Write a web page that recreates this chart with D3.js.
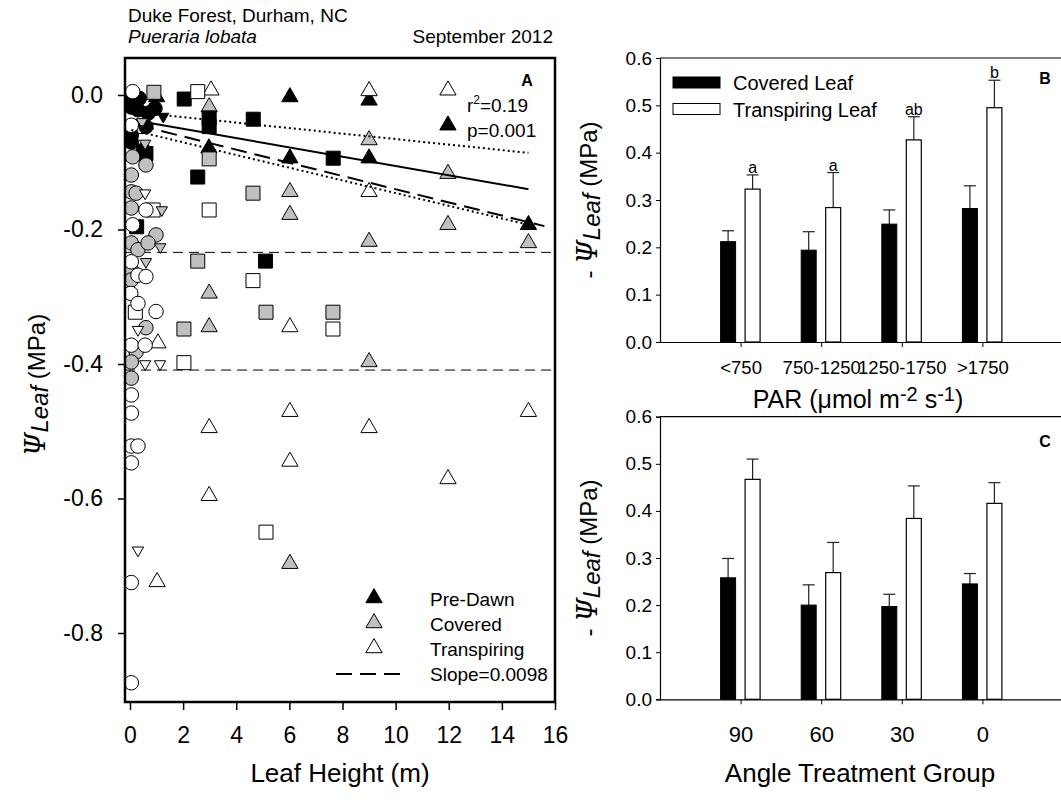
<!DOCTYPE html>
<html>
<head>
<meta charset="utf-8">
<script src="https://d3js.org/d3.v7.min.js"></script>
<style>
body { margin: 0; background: #fff; }
text { font-family: "Liberation Sans", Arial, sans-serif; fill: #000; }
</style>
</head>
<body>
<div id="chart-area"></div>
<script>

// Panel A: [leaf height (m), water potential (MPa)]
var preDawnTri = [[1.0,-0.003],[2.97,-0.079],[6.02,-0.003],[6.02,-0.094],[9.0,-0.008],[9.0,-0.094],[11.97,-0.045],[15.0,-0.193]]
var coveredTri = [[2.98,-0.018],[2.98,-0.295],[2.98,-0.345],[6.02,-0.144],[6.02,-0.178],[6.02,-0.697],[9.0,-0.067],[9.0,-0.218],[9.0,-0.397],[11.97,-0.117],[11.97,-0.193],[15.0,-0.220]]
var transpTri = [[3.05,0.007],[9.0,0.006],[11.97,0.007],[9.0,-0.144],[6.02,-0.345],[6.02,-0.471],[6.02,-0.545],[2.98,-0.495],[2.98,-0.596],[9.0,-0.495],[11.97,-0.571],[15.0,-0.471],[1.02,-0.724],[1.05,-0.369]]

var blackSquares = [[2.04,-0.006],[4.64,-0.036],[2.55,-0.122],[2.98,-0.034],[2.98,-0.047],[7.65,-0.094],[5.1,-0.247],[0.25,-0.196],[0.6,-0.087]]
var graySquares = [[0.9,0.004],[2.98,-0.095],[4.63,-0.146],[2.55,-0.247],[5.12,-0.323],[7.64,-0.323],[2.03,-0.348]]
var whiteSquares = [[2.55,0.005],[2.98,-0.171],[4.63,-0.276],[7.64,-0.348],[5.12,-0.650],[2.03,-0.398],[0.87,-0.171],[0.2,-0.323],[0.4,-0.047]]

var blackCircles = [[0.05,-0.018],[0.3,-0.022],[0.94,-0.02],[0.68,-0.027],[0.05,-0.06],[0.5,-0.082],[0.6,-0.047],[0.1,-0.005],[0.35,-0.005],[0.05,-0.07]]
var grayCircles = [[0.1,-0.092],[0.6,-0.104],[0.05,-0.119],[0.05,-0.144],[0.23,-0.146],[0.05,-0.168],[0.98,-0.208],[0.05,-0.22],[0.3,-0.23],[0.68,-0.22],[0.05,-0.26],[0.05,-0.275],[0.6,-0.346],[0.23,-0.382],[0.05,-0.397],[0.05,-0.421]]
var whiteCircles = [[0.1,0.005],[0.05,-0.045],[0.6,-0.171],[0.1,-0.193],[0.05,-0.248],[0.3,-0.268],[0.6,-0.270],[0.03,-0.295],[0.3,-0.31],[0.98,-0.322],[0.05,-0.372],[0.57,-0.372],[0.05,-0.446],[0.05,-0.473],[0.05,-0.522],[0.3,-0.522],[0.05,-0.547],[0.05,-0.725],[0.05,-0.874]]

var blackDownTri = [[1.25,-0.032]]
var grayDownTri = [[0.57,-0.072],[1.2,-0.171],[1.14,-0.226],[0.6,-0.248],[0.45,-0.04]]
var whiteDownTri = [[0.57,-0.146],[0.3,-0.349],[0.57,-0.40],[1.13,-0.40],[0.3,-0.677]]

var fitLine = [[0.8,-0.042],[15,-0.140]]
var ciUpper = [[1.3,-0.030],[15,-0.086]]
var ciLower = [[0.05,-0.052],[15,-0.193]]
var slopeLine = [[0.3,-0.045],[15.6,-0.195]]
var refLines = [-0.234, -0.409]

var heightTicks = [0,2,4,6,8,10,12,14,16]
var psiTicks = [0,-0.2,-0.4,-0.6,-0.8]

// Panel B: PAR groups
var parGroups = ["<750","750-1250","1250-1750",">1750"]
var parCovered = [0.212,0.194,0.249,0.282]
var parCoveredErr = [0.023,0.039,0.030,0.048]
var parTransp = [0.323,0.284,0.427,0.495]
var parTranspErr = [0.030,0.074,0.049,0.058]
var parLetters = ["a","a","ab","b"]

// Panel C: angle groups
var angleGroups = ["90","60","30","0"]
var angleCovered = [0.258,0.200,0.197,0.245]
var angleCoveredErr = [0.041,0.043,0.026,0.022]
var angleTransp = [0.467,0.269,0.384,0.416]
var angleTranspErr = [0.043,0.064,0.069,0.044]

var barTicks = [0,0.1,0.2,0.3,0.4,0.5,0.6]

var svg = d3.select("#chart-area")
  .append("svg")
  .attr("width", 1061)
  .attr("height", 800)

// ---------- Panel A ----------
var x = d3.scaleLinear()
  .domain([0, 16])
  .range([130, 555])

var y = d3.scaleLinear()
  .domain([0, -0.8])
  .range([95, 633])

svg.append("text").attr("x", 128).attr("y", 22).attr("font-size", 19).text("Duke Forest, Durham, NC")
svg.append("text").attr("x", 128).attr("y", 43).attr("font-size", 19).attr("font-style", "italic").text("Pueraria lobata")
svg.append("text").attr("x", 553).attr("y", 43).attr("font-size", 19).attr("text-anchor", "end").text("September 2012")

var clipA = svg.append("clipPath").attr("id", "clipA")
clipA.append("rect").attr("x", 125).attr("y", 58).attr("width", 430).attr("height", 644)

var plotA = svg.append("g").attr("clip-path", "url(#clipA)")

// reference lines
plotA.selectAll(".ref")
  .data(refLines)
  .enter()
  .append("line")
  .attr("x1", 125).attr("x2", 555)
  .attr("y1", function(d){ return y(d) })
  .attr("y2", function(d){ return y(d) })
  .attr("stroke", "#000")
  .attr("stroke-width", 1)
  .attr("stroke-dasharray", "10,6")

var line = d3.line()
  .x(function(d){ return x(d[0]) })
  .y(function(d){ return y(d[1]) })

function drawMarks(data, type, size, fill, flip) {
  plotA.append("g").selectAll("path")
    .data(data)
    .enter()
    .append("path")
    .attr("d", d3.symbol().type(type).size(size))
    .attr("transform", function(d){
      return "translate(" + x(d[0]) + "," + y(d[1]) + ")" + (flip ? " rotate(180)" : "")
    })
    .attr("fill", fill)
    .attr("stroke", "#000")
    .attr("stroke-width", 1)
}

var gray = "#c0c0c0"
var triSize = 115, sqSize = 196, circSize = 165, smallTri = 55

drawMarks(preDawnTri, d3.symbolTriangle, triSize, "#000")
drawMarks(coveredTri, d3.symbolTriangle, triSize, gray)
drawMarks(transpTri, d3.symbolTriangle, triSize, "#fff")
drawMarks(blackSquares, d3.symbolSquare, sqSize, "#000")
drawMarks(graySquares, d3.symbolSquare, sqSize, gray)
drawMarks(whiteSquares, d3.symbolSquare, sqSize, "#fff")
drawMarks(blackCircles, d3.symbolCircle, circSize, "#000")
drawMarks(grayCircles, d3.symbolCircle, circSize, gray)
drawMarks(whiteCircles, d3.symbolCircle, circSize, "#fff")
drawMarks(blackDownTri, d3.symbolTriangle, smallTri, "#000", true)
drawMarks(grayDownTri, d3.symbolTriangle, smallTri, gray, true)
drawMarks(whiteDownTri, d3.symbolTriangle, smallTri, "#fff", true)

plotA.append("path").datum(fitLine).attr("d", line)
  .attr("fill", "none").attr("stroke", "#000").attr("stroke-width", 2)
plotA.append("path").datum(ciUpper).attr("d", line)
  .attr("fill", "none").attr("stroke", "#000").attr("stroke-width", 2).attr("stroke-dasharray", "2,3")
plotA.append("path").datum(ciLower).attr("d", line)
  .attr("fill", "none").attr("stroke", "#000").attr("stroke-width", 2).attr("stroke-dasharray", "2,3")
plotA.append("path").datum(slopeLine).attr("d", line)
  .attr("fill", "none").attr("stroke", "#000").attr("stroke-width", 2).attr("stroke-dasharray", "16,8")

// axes
var xAxisA = d3.axisBottom(x)
  .tickValues(heightTicks)
  .tickSize(8)
  .tickPadding(17)
  .tickFormat(function(d){ return d })

svg.append("g")
  .attr("transform", "translate(0,702)")
  .call(xAxisA)
  .call(function(g){ g.select(".domain").remove() })
  .selectAll("text")
  .attr("font-size", 23)
  .attr("font-family", "Liberation Sans, Arial, sans-serif")

var yAxisA = d3.axisLeft(y)
  .tickValues(psiTicks)
  .tickSize(7)
  .tickPadding(15)
  .tickFormat(function(d){ return d.toFixed(1) })

svg.append("g")
  .attr("transform", "translate(125,0)")
  .call(yAxisA)
  .call(function(g){ g.select(".domain").remove() })
  .selectAll("text")
  .attr("font-size", 23)
  .attr("font-family", "Liberation Sans, Arial, sans-serif")

svg.selectAll(".tick line").attr("stroke", "#000").attr("stroke-width", 1.5)

svg.append("rect")
  .attr("x", 125).attr("y", 58).attr("width", 430).attr("height", 644)
  .attr("fill", "none").attr("stroke", "#000").attr("stroke-width", 2.5)

// labels inside A
svg.append("text").attr("x", 527).attr("y", 86).attr("font-size", 16).attr("font-weight", "bold")
  .attr("text-anchor", "middle").text("A")
var r2 = svg.append("text").attr("x", 467).attr("y", 112).attr("font-size", 19)
r2.append("tspan").text("r")
r2.append("tspan").attr("font-size", 12).attr("dy", -8).text("2")
r2.append("tspan").attr("dy", 8).text("=0.19")
svg.append("text").attr("x", 467).attr("y", 137).attr("font-size", 19).text("p=0.001")

// legend A
var legendA = [
  { label: "Pre-Dawn", fill: "#000" },
  { label: "Covered", fill: gray },
  { label: "Transpiring", fill: "#fff" }
]
svg.selectAll(".legA")
  .data(legendA)
  .enter()
  .append("path")
  .attr("d", d3.symbol().type(d3.symbolTriangle).size(triSize))
  .attr("transform", function(d, i){ return "translate(374," + (598 + i * 25) + ")" })
  .attr("fill", function(d){ return d.fill })
  .attr("stroke", "#000")
svg.selectAll(".legAtext")
  .data(legendA)
  .enter()
  .append("text")
  .attr("x", 430)
  .attr("y", function(d, i){ return 606 + i * 25 })
  .attr("font-size", 19)
  .text(function(d){ return d.label })
svg.append("line").attr("x1", 336).attr("x2", 405).attr("y1", 674).attr("y2", 674)
  .attr("stroke", "#000").attr("stroke-width", 2).attr("stroke-dasharray", "16,8")
svg.append("text").attr("x", 430).attr("y", 681).attr("font-size", 19).text("Slope=0.0098")

// axis titles A
svg.append("text")
  .attr("x", 340).attr("y", 782)
  .attr("font-size", 26)
  .attr("text-anchor", "middle")
  .text("Leaf Height (m)")

function psiTitle(cx, cy, prefix) {
  var t = svg.append("text")
    .attr("transform", "translate(" + cx + "," + cy + ") rotate(-90)")
    .attr("text-anchor", "middle")
    .attr("font-size", 24)
  if (prefix) t.append("tspan").text(prefix)
  t.append("tspan").attr("font-family", "DejaVu Serif, serif").attr("font-style", "italic").attr("font-size", 27).text("Ψ")
  t.append("tspan").attr("font-style", "italic").attr("dy", 3).text("Leaf")
  t.append("tspan").attr("dy", -3).text(" (MPa)")
}
psiTitle(45, 385)

// ---------- Panels B and C ----------
function barPanel(top, bottom, groups, cov, covErr, tr, trErr, letters, pad, tickFont, tag, tagY) {
  var yb = d3.scaleLinear().domain([0, 0.6]).range([bottom, top])
  var xb = d3.scaleLinear().domain([-1, 4]).range([660, 1063])
  var g = svg.append("g")

  g.append("line").attr("x1", 660).attr("x2", 1061).attr("y1", top).attr("y2", top)
    .attr("stroke", "#000").attr("stroke-width", 1.2)

  var idx = d3.range(groups.length)

  // error bars first
  function errs(vals, es, off) {
    g.selectAll(null).data(idx).enter().append("line")
      .attr("x1", function(i){ return xb(i) + off }).attr("x2", function(i){ return xb(i) + off })
      .attr("y1", function(i){ return yb(vals[i]) }).attr("y2", function(i){ return yb(vals[i] + es[i]) })
      .attr("stroke", "#222").attr("stroke-width", 1.2)
    g.selectAll(null).data(idx).enter().append("line")
      .attr("x1", function(i){ return xb(i) + off - 6 }).attr("x2", function(i){ return xb(i) + off + 6 })
      .attr("y1", function(i){ return yb(vals[i] + es[i]) }).attr("y2", function(i){ return yb(vals[i] + es[i]) })
      .attr("stroke", "#222").attr("stroke-width", 1.2)
  }
  errs(cov, covErr, -12.5)
  errs(tr, trErr, 12)

  g.selectAll(null).data(idx).enter().append("rect")
    .attr("x", function(i){ return xb(i) - 20 })
    .attr("width", 15)
    .attr("y", function(i){ return yb(cov[i]) })
    .attr("height", function(i){ return yb(0) - yb(cov[i]) })
    .attr("fill", "#000").attr("stroke", "#000")

  g.selectAll(null).data(idx).enter().append("rect")
    .attr("x", function(i){ return xb(i) + 4.5 })
    .attr("width", 15)
    .attr("y", function(i){ return yb(tr[i]) })
    .attr("height", function(i){ return yb(0) - yb(tr[i]) })
    .attr("fill", "#fff").attr("stroke", "#000").attr("stroke-width", 1.2)

  if (letters) {
    g.selectAll(null).data(idx).enter().append("text")
      .attr("x", function(i){ return xb(i) + 12 })
      .attr("y", function(i){ return yb(tr[i] + trErr[i]) - 2 })
      .attr("text-anchor", "middle")
      .attr("font-size", 16)
      .text(function(i){ return letters[i] })
  }

  var yAx = svg.append("g")
    .attr("transform", "translate(660,0)")
    .call(d3.axisLeft(yb).tickValues(barTicks).tickSize(4).tickPadding(4)
      .tickFormat(function(d){ return d.toFixed(1) }))
  yAx.selectAll("text").attr("font-size", 19).attr("font-family", "Liberation Sans, Arial, sans-serif")

  var xAx = svg.append("g")
    .attr("transform", "translate(0," + bottom + ")")
    .call(d3.axisBottom(xb).tickValues(idx).tickSize(5).tickPadding(pad)
      .tickFormat(function(d){ return groups[d] }))
  xAx.select(".domain").attr("d", "M660,0.5H1061")
  xAx.selectAll("text").attr("font-size", tickFont).attr("font-family", "Liberation Sans, Arial, sans-serif")

  svg.selectAll(".domain").attr("stroke", "#000").attr("stroke-width", 1.2)

  svg.append("text").attr("x", 1045).attr("y", tagY).attr("font-size", 16)
    .attr("font-weight", "bold").attr("text-anchor", "middle").text(tag)
}

barPanel(58, 342, parGroups, parCovered, parCoveredErr, parTransp, parTranspErr, parLetters, 14, 18.5, "B", 84)
barPanel(416.7, 699.3, angleGroups, angleCovered, angleCoveredErr, angleTransp, angleTranspErr, null, 22, 22, "C", 447)

// legend B
svg.append("rect").attr("x", 673).attr("y", 77).attr("width", 47).attr("height", 11).attr("fill", "#000").attr("stroke", "#000")
svg.append("rect").attr("x", 673).attr("y", 103.5).attr("width", 47).attr("height", 11).attr("fill", "#fff").attr("stroke", "#000")
svg.append("text").attr("x", 733).attr("y", 90).attr("font-size", 20).text("Covered Leaf")
svg.append("text").attr("x", 733).attr("y", 116.5).attr("font-size", 20).text("Transpiring Leaf")

// axis titles B / C
var par = svg.append("text").attr("x", 858).attr("y", 408).attr("font-size", 25).attr("text-anchor", "middle")
par.append("tspan").text("PAR (μmol m")
par.append("tspan").attr("font-size", 20).attr("dy", -7).text("-2")
par.append("tspan").attr("dy", 7).text(" s")
par.append("tspan").attr("font-size", 20).attr("dy", -7).text("-1")
par.append("tspan").attr("dy", 7).text(")")

svg.append("text").attr("x", 860).attr("y", 782).attr("font-size", 26).attr("text-anchor", "middle")
  .text("Angle Treatment Group")

psiTitle(597, 200, "- ")
psiTitle(597, 558, "- ")

</script>
</body>
</html>
